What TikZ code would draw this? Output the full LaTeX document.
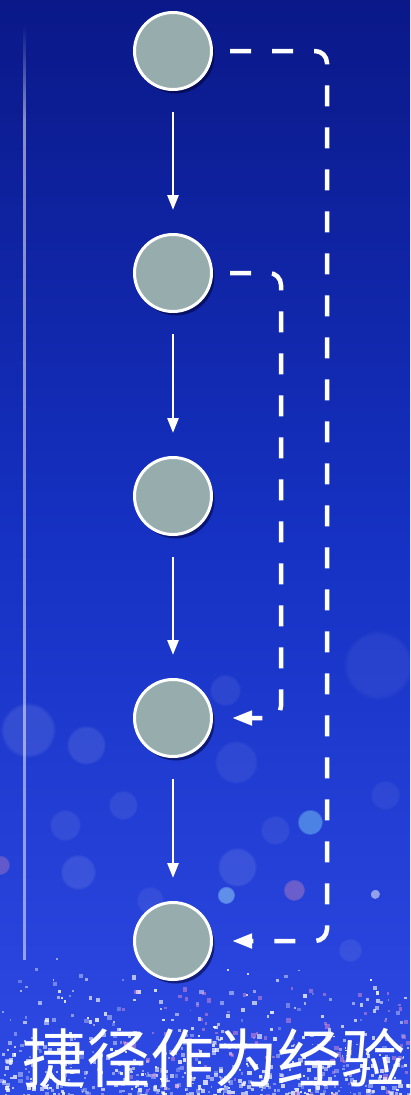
\documentclass[tikz,border=0pt]{standalone}
\usepackage{fontspec}
\newfontfamily\cjk{Noto Sans CJK SC}
\usetikzlibrary{arrows.meta,shadows,fadings}
\definecolor{bgtop}{HTML}{0A1888}
\definecolor{bgmid}{HTML}{1632C4}
\definecolor{bgbot}{HTML}{2E4AE4}
\definecolor{circfill}{HTML}{97ADAD}
\tikzfading[name=vfade, top color=transparent!100, bottom color=transparent!0]
\tikzset{
  stage/.style={circle, minimum size=77pt, inner sep=0pt, fill=circfill, draw=white, line width=3pt,
    drop shadow={shadow xshift=3pt, shadow yshift=-4pt, opacity=0.55, fill=black!80!blue}},
  flow/.style={white, line width=2.8pt, -{Triangle[length=15pt,width=11pt]}, shorten <=21pt, shorten >=23pt},
  shortcut/.style={white, line width=4.5pt, dash pattern=on 21pt off 21pt, rounded corners=12pt,
    -{Triangle[length=20pt,width=14pt]}},
  bokeh/.style={fill=#1, path fading=circle with fuzzy edge 15 percent},
}
\begin{document}
\begin{tikzpicture}[x=1pt,y=-1pt]
\useasboundingbox (0,0) rectangle (410,1095);
\shade[top color=bgtop, bottom color=bgbot, middle color=bgmid] (0,0) rectangle (410,1095);
% bokeh
\foreach \x/\y/\r/\o in {28/730/28/0.10, 86/745/20/0.10, 123/805/15/0.08, 65/825/16/0.08, 78/872/18/0.10, 236/762/22/0.07, 225/690/16/0.07, 378/665/35/0.06, 385/795/15/0.06, 275/830/15/0.07, 237/867/20/0.10, 350/950/12/0.08, 150/900/14/0.07}
  \fill[bokeh=white, opacity=\o] (\x,\y) circle (\r);
\fill[bokeh=cyan!50!white, opacity=0.45] (310,822) circle (13);
\fill[bokeh=violet!50!white, opacity=0.45] (294,890) circle (11);
\fill[bokeh=cyan!40!white, opacity=0.5] (226,895) circle (9);
\fill[bokeh=white, opacity=0.5] (375,894) circle (5);
\fill[bokeh=violet!50!white, opacity=0.4] (0,865) circle (10);
% sparkles
\pgfmathsetseed{7}
\foreach \i in {1,...,600}{
  \pgfmathsetmacro{\sx}{rnd*410}
  \pgfmathsetmacro{\sy}{1095-150*rnd*rnd}
  \pgfmathsetmacro{\ss}{1.5+3*rnd}
  \pgfmathsetmacro{\so}{0.25+0.6*rnd}
  \fill[white, opacity=\so] (\sx,\sy) rectangle ++(\ss,\ss);
}
\foreach \i in {1,...,90}{
  \pgfmathsetmacro{\sx}{120+290*rnd}
  \pgfmathsetmacro{\sy}{1095-110*rnd}
  \pgfmathsetmacro{\ss}{2+3*rnd}
  \fill[magenta!40!white, opacity=0.45] (\sx,\sy) rectangle ++(\ss,\ss);
}
% vertical line
\fill[white, opacity=0.5, path fading=vfade] (23,25) rectangle (25.5,120);
\fill[white, opacity=0.5] (23,120) rectangle (25.5,960);
% nodes
\node[stage] (n1) at (173,51) {};
\node[stage] (n2) at (173,273) {};
\node[stage] (n3) at (173,496) {};
\node[stage] (n4) at (173,718) {};
\node[stage] (n5) at (173,941) {};
\draw[flow] (n1) -- (n2);
\draw[flow] (n2) -- (n3);
\draw[flow] (n3) -- (n4);
\draw[flow] (n4) -- (n5);
\coordinate (c1) at (327,51);
\coordinate (c2) at (327,941);
\coordinate (d1) at (281,273);
\coordinate (d2) at (281,718);
\draw[shortcut] ([xshift=17pt]n1.east) -- (c1) -- (c2) -- ([xshift=19pt]n5.east);
\draw[shortcut] ([xshift=17pt]n2.east) -- (d1) -- (d2) -- ([xshift=19pt]n4.east);
\node[text=white, font=\cjk\fontsize{64}{64}\selectfont, inner sep=0pt] (t) at (214,1058) {捷径作为经验};
\end{tikzpicture}
\end{document}
